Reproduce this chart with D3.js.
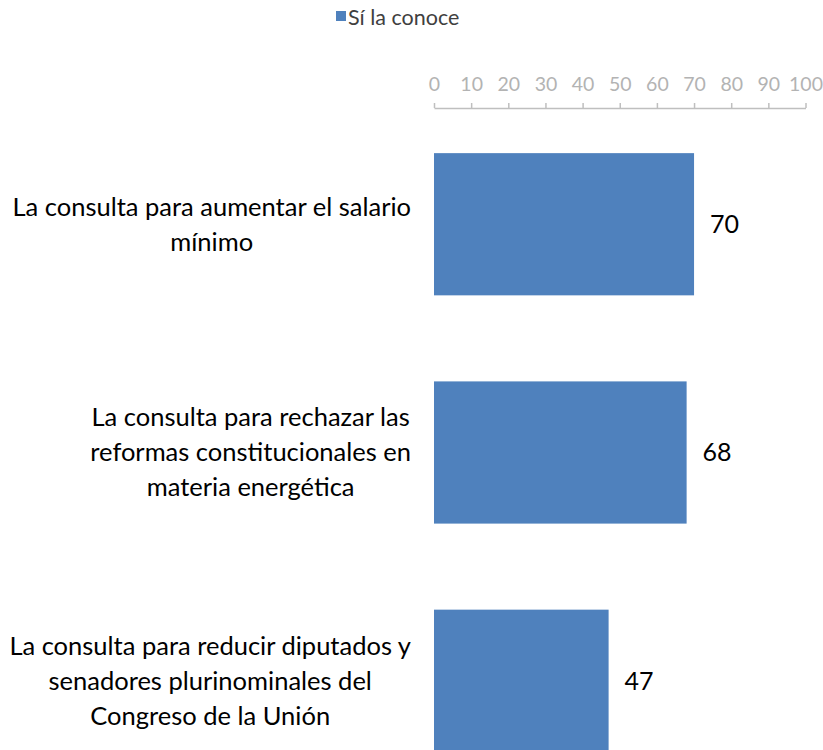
<!DOCTYPE html>
<html><head><meta charset="utf-8">
<script src="https://cdn.jsdelivr.net/npm/d3@7"></script>
<style>body{margin:0;background:#fff}svg{display:block}</style>
</head><body>
<script>
const categories = [
  ["La consulta para aumentar el salario", "mínimo"],
  ["La consulta para rechazar las", "reformas constitucionales en", "materia energética"],
  ["La consulta para reducir diputados y", "senadores plurinominales del", "Congreso de la Unión"]
];
const values = [70, 68, 47];
const seriesName = "Sí la conoce";
const ticks = [0,10,20,30,40,50,60,70,80,90,100];

const W = 823, H = 750;
const FONT = "Lato, 'Open Sans', sans-serif";
const svg = d3.select("body").append("svg").attr("width", W).attr("height", H);

const x = d3.scaleLinear().domain([0,100]).range([434, 805.5]);
const y = d3.scaleBand().domain(d3.range(categories.length)).range([110, 795])
  .paddingInner(0.377).paddingOuter(0.189);

// legend
const lg = svg.append("g");
lg.append("rect").attr("x", 336).attr("y", 11).attr("width", 10).attr("height", 10).attr("fill", "#4f81bd");
lg.append("text").attr("x", 348).attr("y", 17).attr("dy", "0.35em")
  .attr("font-family", FONT).attr("font-size", 21.5).attr("fill", "#404040").text(seriesName);

// top axis
const axis = d3.axisTop(x).tickValues(ticks).tickSize(5).tickPadding(12).tickSizeOuter(0);
const ag = svg.append("g").attr("transform", "translate(0,108)").call(axis);
ag.select(".domain").attr("stroke", "#bfbfbf").attr("stroke-width", 1.5);
ag.selectAll(".tick line").attr("stroke", "#bfbfbf").attr("stroke-width", 1.5);
ag.selectAll(".tick text").attr("font-family", FONT).attr("font-size", 19.5).attr("fill", "#b3b3b3");

// bars
svg.selectAll("rect.bar").data(values).join("rect").attr("class", "bar")
  .attr("x", x(0)).attr("y", (d,i) => y(i)).attr("width", d => x(d) - x(0))
  .attr("height", y.bandwidth()).attr("fill", "#4f81bd");

// values
svg.selectAll("text.val").data(values).join("text").attr("class", "val")
  .attr("x", d => x(d) + 16).attr("y", (d,i) => y(i) + y.bandwidth()/2).attr("dy", "0.35em")
  .attr("font-family", FONT).attr("font-size", 25).attr("fill", "#000").text(d => d);

// category labels
const lineH = 35;
categories.forEach((lines, i) => {
  const cy = y(i) + y.bandwidth()/2;
  const g = svg.append("g");
  const ts = lines.map((l, j) => g.append("text")
    .attr("y", cy + (j - (lines.length-1)/2) * lineH).attr("dy", "0.35em")
    .attr("text-anchor", "middle").attr("font-family", FONT).attr("font-size", 25.5)
    .attr("fill", "#000").text(l));
  const maxW = d3.max(ts, t => t.node().getComputedTextLength());
  ts.forEach(t => t.attr("x", 411 - maxW/2));
});
</script>
</body></html>
